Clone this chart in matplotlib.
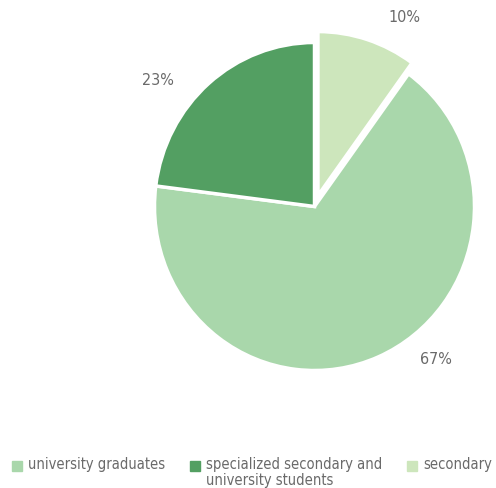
import matplotlib.pyplot as plt
from matplotlib.patches import Rectangle

labels = ["university graduates", "specialized secondary and\nuniversity students", "secondary"]
values = [67, 23, 10]
colors = ["#a9d7ab", "#539f62", "#cde6bc"]
explode = [0, 0, 0.07]
# where the percent labels sit (in pie radius units), to match the original
label_xy = [(0.76, -0.93), (-0.98, 0.77), (0.56, 1.155)]

plt.rcParams['font.family'] = ['DejaVu Sans']
plt.rcParams['font.stretch'] = 'condensed'
txt_color = "#6a6a6a"

fig = plt.figure(figsize=(4.96, 4.88), dpi=100)
cx, cy, rx, ry = 314.5, 206.5, 160, 164
ax = fig.add_axes([(cx - rx) / 496, (488 - cy - ry) / 488, 2 * rx / 496, 2 * ry / 488])

wedges, texts, autotexts = ax.pie(values, colors=colors, explode=explode, startangle=54,
                                  counterclock=False, autopct='%d%%',
                                  wedgeprops=dict(edgecolor='white', linewidth=2.5),
                                  textprops=dict(color=txt_color, fontsize=11.5))
for t, xy in zip(autotexts, label_xy):
    t.set_position(xy)
ax.set_aspect('auto')
ax.set_xlim(-1, 1)
ax.set_ylim(-1, 1)

# legend row at the bottom
leg_x = [12, 190, 407]
for lab, col, x in zip(labels, colors, leg_x):
    fig.patches.append(Rectangle((x / 496, (488 - 471) / 488), 10 / 496, 10 / 488,
                                 transform=fig.transFigure, color=col, figure=fig))
    fig.text((x + 16) / 496, (488 - 457) / 488, lab, color=txt_color, fontsize=10.5,
             va='top', ha='left', linespacing=1.05)

fig.savefig('out.png', dpi=100)
